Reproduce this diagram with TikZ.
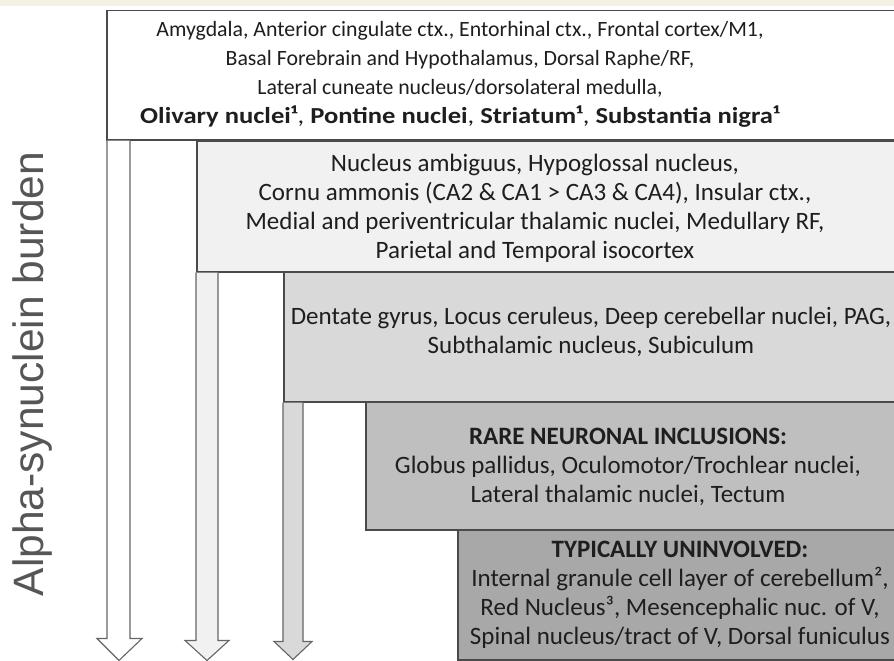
\documentclass[tikz,border=0pt]{standalone}
\usepackage{fontspec}
\usepackage{graphicx}
\setmainfont{Carlito}
\newfontfamily\labelfont{Liberation Sans}
\definecolor{bandc}{HTML}{F4F0E3}
\definecolor{edgec}{HTML}{4A4A4A}
\definecolor{txtc}{HTML}{1E1E1E}
\definecolor{fillA}{HTML}{FFFFFF}
\definecolor{fillB}{HTML}{F1F1F1}
\definecolor{fillC}{HTML}{D9D9D9}
\definecolor{fillD}{HTML}{BFBFBF}
\definecolor{fillE}{HTML}{A8A8A8}
\begin{document}
\begin{tikzpicture}[x=1pt,y=-1pt,
  levelbox/.style={draw=edgec, line width=1.5pt, rectangle, inner sep=0pt, anchor=north west},
  boxtext/.style={align=center, text=txtc, inner sep=0pt, font=\fontsize{25}{29}\selectfont},
  toptext/.style={boxtext, font=\fontsize{21.8}{29}\selectfont},
  burdenarrow/.style={draw=edgec!85, line width=1.1pt, line join=miter}
]
\useasboundingbox (0,0) rectangle (894,661);
\clip (0,0) rectangle (894,661);
\fill[white] (0,0) rectangle (894,661);
\fill[bandc] (0,0) rectangle (894,6);

% boxes
\node[levelbox, fill=fillA, minimum width=800pt, minimum height=129pt] (b1) at (106,10) {};
\node[levelbox, fill=fillB, minimum width=710pt, minimum height=131pt] (b2) at (196,140) {};
\node[levelbox, fill=fillC, minimum width=620pt, minimum height=130pt] (b3) at (283,271) {};
\node[levelbox, fill=fillD, minimum width=540pt, minimum height=128pt] (b4) at (365,401) {};
\node[levelbox, fill=fillE, minimum width=450pt, minimum height=130pt] (b5) at (457,529) {};

% arrows
\coordinate (a1) at (b1.south west);
\draw[burdenarrow, fill=fillA] ([xshift=1pt]a1) -- ++(0,498) -- ++(-10,0) -- ++(22,22) -- ++(23,-22) -- ++(-12,0) -- ++(0,-498);
\coordinate (a2) at (b2.south west);
\draw[burdenarrow, fill=fillB] ([xshift=0pt]a2) -- ++(0,368) -- ++(-11,0) -- ++(22,20) -- ++(22,-20) -- ++(-11,0) -- ++(0,-368);
\coordinate (a3) at (b3.south west);
\draw[burdenarrow, fill=fillC] ([xshift=0pt]a3) -- ++(0,239) -- ++(-9,0) -- ++(19,18) -- ++(19,-18) -- ++(-9,0) -- ++(0,-239);

% texts
\node[toptext] (t1) at (460,74) {Amygdala, Anterior cingulate ctx., Entorhinal ctx., Frontal cortex/M1,\\
Basal Forebrain and Hypothalamus, Dorsal Raphe/RF,\\
Lateral cuneate nucleus/dorsolateral medulla,\\
\scalebox{1.22}[1.05]{\textbf{Olivary nuclei¹}, \textbf{Pontine nuclei}, \textbf{Striatum¹}, \textbf{Substantia nigra¹}}};
\node[boxtext] (t2) at (535,208) {Nucleus ambiguus, Hypoglossal nucleus,\\
Cornu ammonis (CA2 \& CA1 > CA3 \& CA4), Insular ctx.,\\
Medial and periventricular thalamic nuclei, Medullary RF,\\
Parietal and Temporal isocortex};
\node[boxtext] (t3) at (591,332) {Dentate gyrus, Locus ceruleus, Deep cerebellar nuclei, PAG,\\
Subthalamic nucleus, Subiculum};
\node[boxtext] (t4) at (628,467) {\textbf{RARE NEURONAL INCLUSIONS:}\\
Globus pallidus, Oculomotor/Trochlear nuclei,\\
Lateral thalamic nuclei, Tectum};
\node[boxtext] (t5) at (680,595) {\textbf{TYPICALLY UNINVOLVED:}\\
Internal granule cell layer of cerebellum²,\\
Red Nucleus³, Mesencephalic nuc. of V,\\
Spinal nucleus/tract of V, Dorsal funiculus};

\node[rotate=90, text=txtc!75, inner sep=0pt, font=\labelfont\fontsize{42.5}{42.5}\selectfont] (lab) at (33,374) {Alpha-synuclein burden};
\end{tikzpicture}
\end{document}
